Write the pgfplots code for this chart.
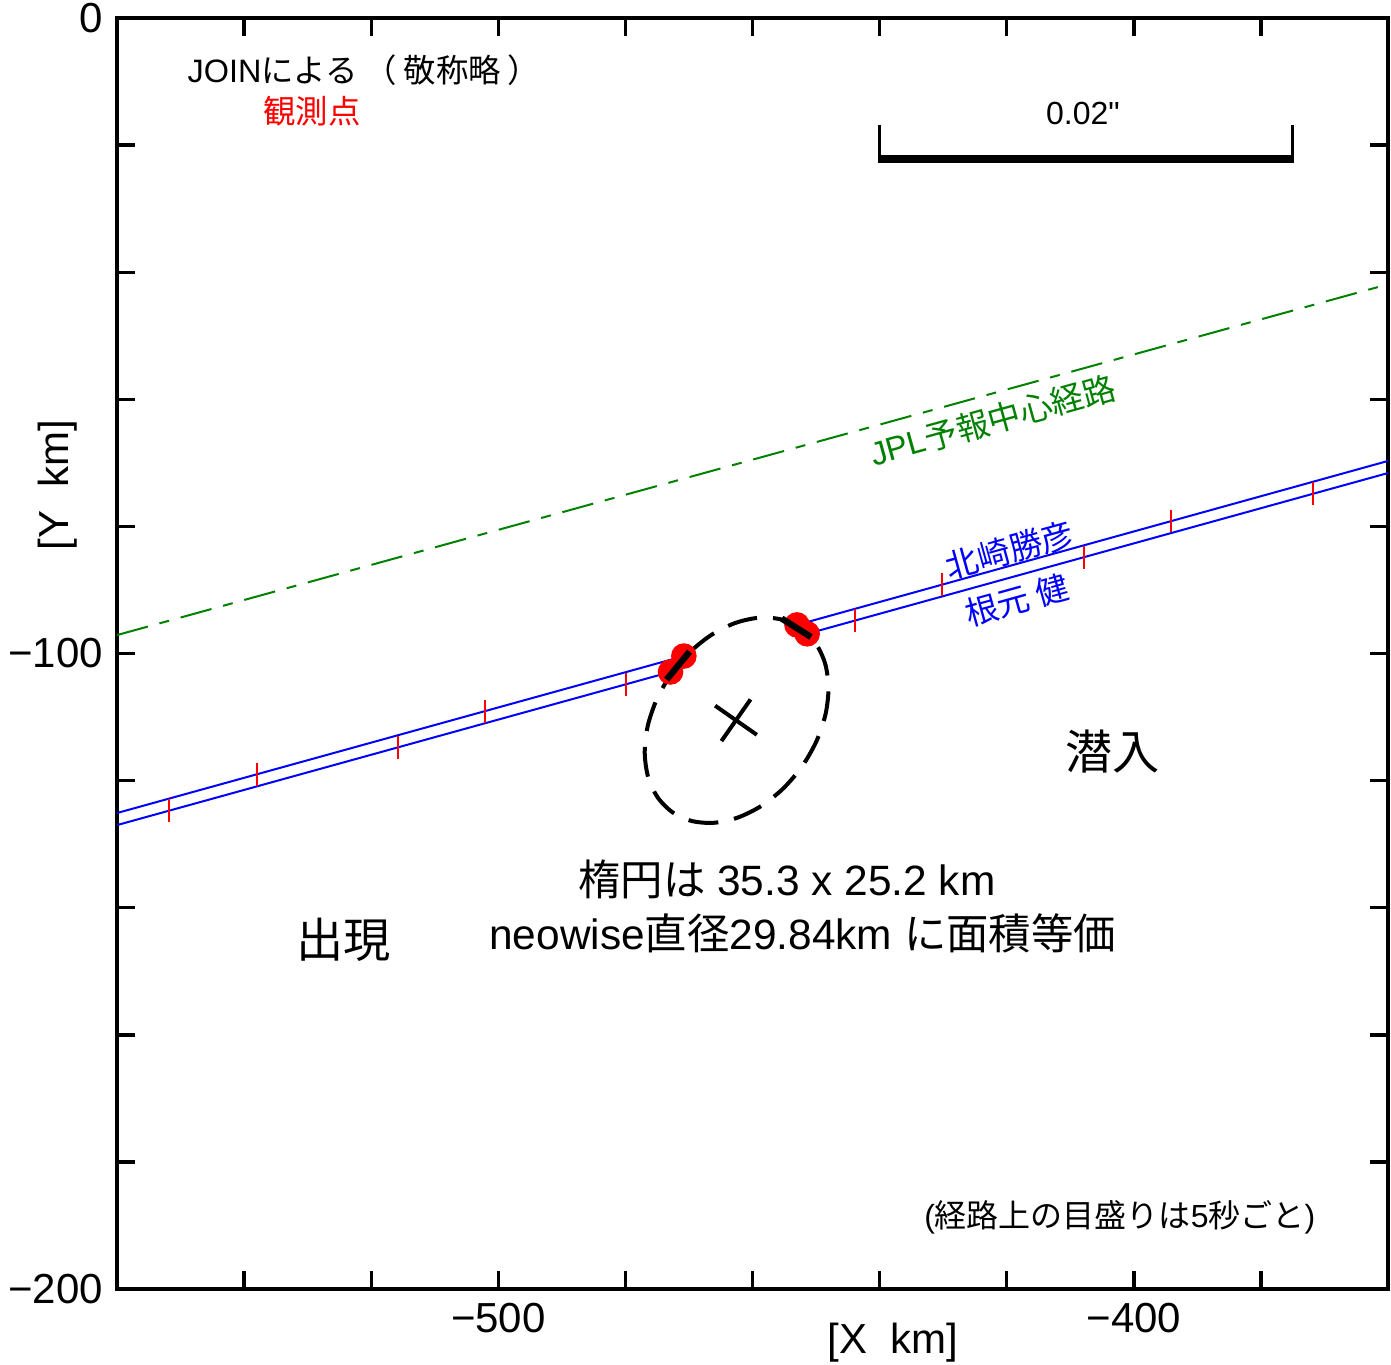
\documentclass[border=0pt]{standalone}
\usepackage{pgfplots}
\pgfplotsset{compat=1.18}
\usepackage{fontspec}
\setmainfont{Liberation Sans}[Ligatures=TeXOff]
\newfontfamily\cjk{Noto Sans CJK JP}
\definecolor{jplgreen}{RGB}{0,128,0}
\begin{document}
\begin{tikzpicture}
\begin{axis}[
  scale only axis, width=317.75pt, height=317.75pt,
  xmin=-560, xmax=-360, ymin=-200, ymax=0,
  clip marker paths=true,
  axis line style={line width=0.85pt},
  every tick/.style={black, line width=0.85pt},
  major tick length=4.5pt, minor tick length=4.5pt,
  xtick={-500,-400}, xticklabels={−500,−400},
  minor xtick={-540,-520,-480,-460,-440,-420,-380},
  ytick={-200,-100,0}, yticklabels={−200,−100,0},
  minor ytick={-180,-160,-140,-120,-80,-60,-40,-20},
  tick label style={font=\fontsize{10.5}{12}\selectfont},
  xlabel={[X\ \ km]}, ylabel={[Y\ \ km]},
  label style={font=\fontsize{10.5}{12}\selectfont},
  xlabel style={at={(rel axis cs:0.6105,-0.0425)}, anchor=center},
  ylabel style={at={(rel axis cs:-0.0465,0.6326)}, anchor=center},
]
% JPL predicted centre line
\addplot[jplgreen, line width=0.5pt, dash pattern=on 8pt off 3pt on 2.5pt off 3pt] coordinates {(-560,-97.1) (-360,-41.9)};
% observed chords
\addplot[blue, line width=0.5pt] coordinates {(-560,-125.1) (-470.8,-100.4)};
\addplot[blue, line width=0.5pt] coordinates {(-453.0,-95.5) (-360,-69.7)};
\addplot[blue, line width=0.5pt] coordinates {(-560,-127.0) (-472.9,-102.9)};
\addplot[blue, line width=0.5pt] coordinates {(-451.4,-96.9) (-360,-71.6)};
% 5 s ticks (lower chord)
\addplot[red, line width=0.5pt] coordinates {(-551.8,-126.53) (-551.8,-122.93)};
\addplot[red, line width=0.5pt] coordinates {(-515.8,-116.56) (-515.8,-112.96)};
\addplot[red, line width=0.5pt] coordinates {(-479.9,-106.61) (-479.9,-103.01)};
\addplot[red, line width=0.5pt] coordinates {(-443.9,-96.64) (-443.9,-93.04)};
\addplot[red, line width=0.5pt] coordinates {(-407.8,-86.64) (-407.8,-83.04)};
\addplot[red, line width=0.5pt] coordinates {(-371.8,-76.67) (-371.8,-73.07)};
% 5 s ticks (upper chord)
\addplot[red, line width=0.5pt] coordinates {(-538.0,-120.81) (-538.0,-117.21)};
\addplot[red, line width=0.5pt] coordinates {(-502.1,-110.86) (-502.1,-107.26)};
\addplot[red, line width=0.5pt] coordinates {(-430.2,-90.95) (-430.2,-87.35)};
\addplot[red, line width=0.5pt] coordinates {(-394.1,-80.95) (-394.1,-77.35)};
% fitted ellipse
\addplot[black, line width=1pt, dash pattern=on 7.5pt off 4pt, smooth] coordinates {
(-452.38,-96.04) (-455.39,-94.66) (-458.89,-94.36) (-462.64,-95.17)
(-466.38,-97.01) (-469.85,-99.78) (-472.82,-103.27) (-475.09,-107.26)
(-476.50,-111.47) (-476.96,-115.61) (-476.43,-119.41) (-474.95,-122.60)
(-472.62,-124.96) (-469.61,-126.34) (-466.11,-126.64) (-462.36,-125.83)
(-458.62,-123.99) (-455.15,-121.22) (-452.18,-117.73) (-449.91,-113.74)
(-448.50,-109.53) (-448.04,-105.39) (-448.57,-101.59) (-450.05,-98.40)
(-452.38,-96.04)};
% centre cross
\addplot[black, line width=1pt] coordinates {(-464.89,-113.78) (-460.31,-107.22)};
\addplot[black, line width=1pt] coordinates {(-465.88,-108.21) (-459.32,-112.79)};
% observed points
\addplot[only marks, mark=*, mark size=3pt, red, mark options={fill=red, draw=red}] coordinates {
(-470.8,-100.4) (-472.9,-102.9) (-453.0,-95.5) (-451.4,-96.9)};
\addplot[black, line width=1.6pt] coordinates {(-473.5,-104.1) (-469.9,-99.7)};
\addplot[black, line width=1.6pt] coordinates {(-455.4,-94.5) (-450.8,-97.4)};
% scale bar
\addplot[black, line width=2pt] coordinates {(-440.0,-22.2) (-375.0,-22.2)};
\addplot[black, line width=0.75pt] coordinates {(-440.0,-16.8) (-440.0,-22.8)};
\addplot[black, line width=0.75pt] coordinates {(-375.0,-16.8) (-375.0,-22.8)};
% texts
\node[anchor=west, inner sep=0pt, font=\fontsize{8.1}{10}\selectfont] at (axis cs:-549.0,-8.2) {JOIN{\cjk による （\hspace{0.2em}敬称略\hspace{0.2em}）}};
\node[red, font=\fontsize{8.1}{10}\selectfont\cjk] at (axis cs:-529.3,-14.6) {観測点};
\node[font=\fontsize{8}{10}\selectfont] at (axis cs:-408.0,-15.1) {0.02"};
\node[jplgreen, rotate=15.5, font=\fontsize{8.2}{10}\selectfont] at (axis cs:-422.2,-63.3) {JPL{\cjk 予報中心経路}};
\node[blue, rotate=15.5, font=\fontsize{8.2}{10}\selectfont\cjk] at (axis cs:-419.5,-83.7) {北崎勝彦};
\node[blue, rotate=15.5, font=\fontsize{8.2}{10}\selectfont\cjk] at (axis cs:-418.4,-91.6) {根元 健};
\node[font=\fontsize{11.8}{13}\selectfont\cjk] at (axis cs:-403.3,-115.5) {潜入};
\node[font=\fontsize{11.8}{13}\selectfont\cjk] at (axis cs:-524.4,-145.1) {出現};
\node[font=\fontsize{10.6}{12}\selectfont] at (axis cs:-454.6,-135.6) {{\cjk 楕円は} 35.3 x 25.2 km};
\node[font=\fontsize{10.6}{12}\selectfont] at (axis cs:-452.1,-144.0) {neowise{\cjk 直径}29.84km {\cjk に面積等価}};
\node[font=\fontsize{8}{10}\selectfont] at (axis cs:-402.2,-188.7) {({\cjk 経路上の目盛りは}5{\cjk 秒ごと})};
\end{axis}
\pgfresetboundingbox
\path[use as bounding box] ([xshift=-29.25pt,yshift=-18.75pt]current axis.south west) rectangle ([xshift=0.75pt,yshift=4.5pt]current axis.north east);
\end{tikzpicture}
\end{document}
